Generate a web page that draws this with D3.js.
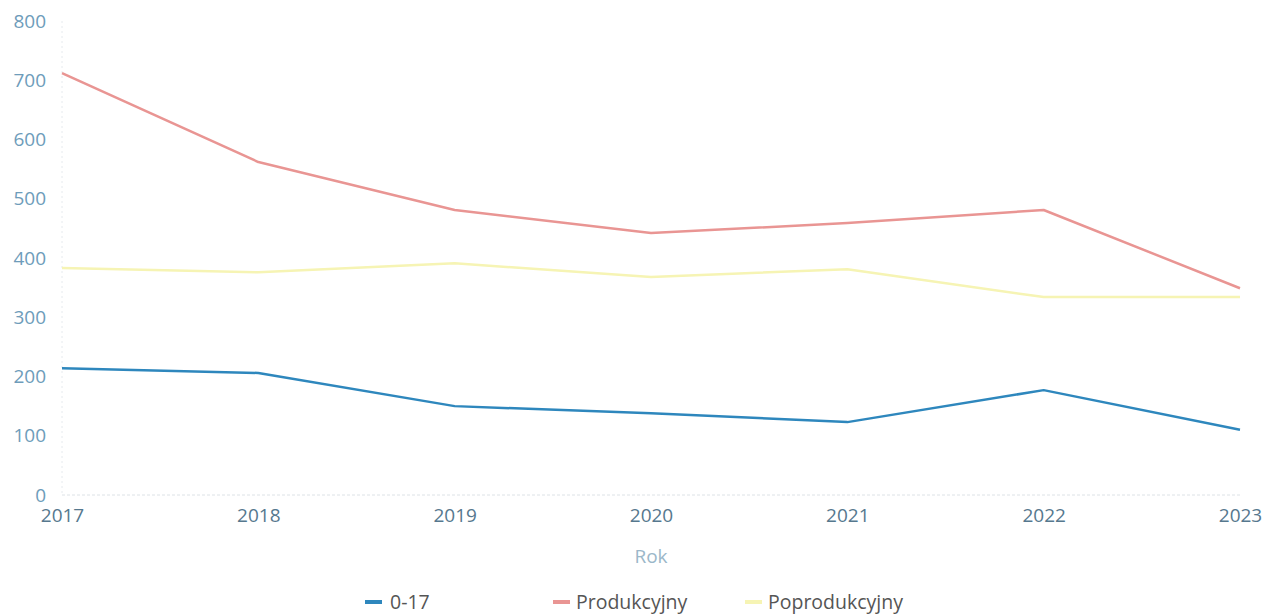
<!DOCTYPE html>
<html>
<head>
<meta charset="utf-8">
<script src="https://cdn.jsdelivr.net/npm/d3@7"></script>
<style>
  body { margin: 0; background: #fff; }
  svg { font-family: "Open Sans", sans-serif; }
</style>
</head>
<body>
<svg id="chart" width="1265" height="614"></svg>
<script>
// data
const years = ["2017", "2018", "2019", "2020", "2021", "2022", "2023"];
const age017 = [214, 206, 150, 138, 123, 177, 110];
const produkcyjny = [712, 562, 481, 442, 459, 481, 349];
const poprodukcyjny = [383, 376, 391, 368, 381, 334, 334];
const yTicks = [0, 100, 200, 300, 400, 500, 600, 700, 800];
const seriesNames = ["0-17", "Produkcyjny", "Poprodukcyjny"];

drawChart();

function drawChart() {
  let left = 62,
    right = 1240,
    top = 21,
    bottom = 495;

  let svg = d3.select("#chart");

  let xScale = d3.scalePoint().domain(years).range([left, right]);
  let yScale = d3.scaleLinear().domain([0, 800]).range([bottom, top]);

  let labelColor = "#6e9cba";

  // faint grid lines (scan looks dotted)
  svg.append("line")
    .attr("x1", left).attr("x2", left)
    .attr("y1", top).attr("y2", bottom)
    .attr("stroke", "#e6eaee")
    .attr("stroke-dasharray", "2,3");
  svg.append("line")
    .attr("x1", left).attr("x2", right)
    .attr("y1", bottom).attr("y2", bottom)
    .attr("stroke", "#dde2e6")
    .attr("stroke-dasharray", "3,2");

  // y axis
  let yAxis = d3.axisLeft(yScale).tickValues(yTicks).tickSize(0).tickPadding(16);
  let gy = svg.append("g")
    .attr("transform", `translate(${left},0)`)
    .call(yAxis);
  gy.select(".domain").remove();
  gy.selectAll("text")
    .style("font-size", "19px")
    .style("font-family", "Open Sans")
    .attr("fill", labelColor);

  // x axis
  let xAxis = d3.axisBottom(xScale).tickSize(0).tickPadding(14);
  let gx = svg.append("g")
    .attr("transform", `translate(0,${bottom})`)
    .call(xAxis);
  gx.select(".domain").remove();
  gx.selectAll("text")
    .style("font-size", "19px")
    .style("font-family", "Open Sans")
    .attr("fill", "#56788e");

  svg.append("text")
    .attr("x", (left + right) / 2)
    .attr("y", 563)
    .attr("text-anchor", "middle")
    .style("font-size", "19px")
    .attr("fill", "#9bb7c9")
    .text("Rok");

  let colors = ["#2e87bd", "#e99593", "#f6f4b4"];
  let allSeries = [age017, produkcyjny, poprodukcyjny];

  let line = d3.line()
    .x((d, i) => xScale(years[i]))
    .y((d) => yScale(d));

  svg.selectAll(".series")
    .data(allSeries)
    .enter()
    .append("path")
    .attr("class", "series")
    .attr("d", line)
    .attr("fill", "none")
    .attr("stroke", (d, i) => colors[i])
    .attr("stroke-width", 2.5)
    .attr("stroke-linejoin", "round");

  // legend
  let legendX = [365, 553, 745];
  let legend = svg.selectAll(".legend")
    .data(seriesNames)
    .enter()
    .append("g")
    .attr("class", "legend")
    .attr("transform", (d, i) => `translate(${legendX[i]},602)`);
  legend.append("line")
    .attr("x1", 0).attr("x2", 17)
    .attr("y1", 0).attr("y2", 0)
    .attr("stroke", (d, i) => colors[i])
    .attr("stroke-width", 4);
  legend.append("text")
    .attr("x", (d, i) => (i == 0 ? 25 : 23))
    .attr("y", 0)
    .attr("dy", "0.35em")
    .style("font-size", "19.5px")
    .attr("fill", "#555")
    .text((d) => d);
}
</script>
</body>
</html>
